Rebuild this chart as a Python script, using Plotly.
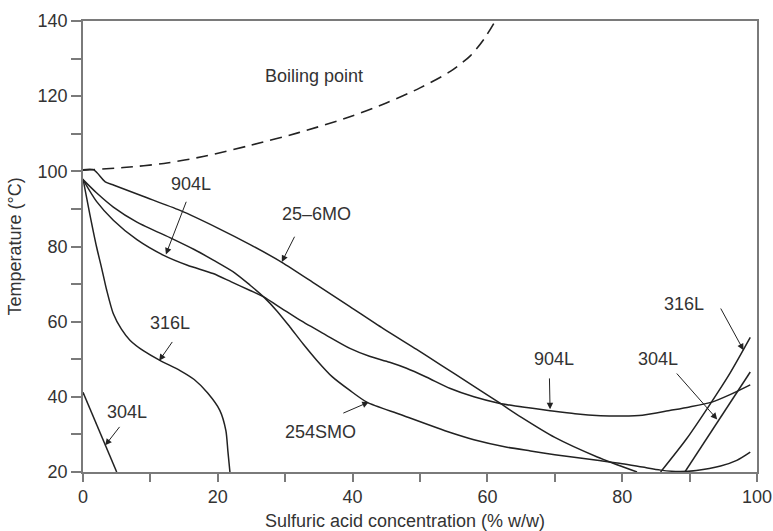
import plotly.graph_objects as go

# Boiling point of sulfuric acid solutions
boil_x = [0, 6, 12, 18, 24.8, 32, 39.6, 45, 50, 54.5, 57.5, 59.5, 61.0]
boil_y = [100.3, 101.0, 102.1, 104.0, 106.9, 110.3, 114.5, 118.2, 122.2, 126.6, 130.8, 135.2, 139.5]

# Iso-corrosion curves (0.1 mm/yr) per alloy
mo25_x = [0, 1.6, 3.3, 4.6, 9, 14.4, 20, 24.8, 29.5, 34.5, 39.6, 44.5, 49.5, 53, 57.5, 61.7, 65, 70, 76.3, 82.2]
mo25_y = [100.4, 100.4, 97.2, 96.3, 93.3, 89.6, 84.9, 80.5, 75.8, 70.0, 64.0, 58.2, 52.6, 48.6, 43.4, 38.5, 34.6, 29.2, 24.0, 20.0]

l904_x = [0, 2, 4.5, 8, 11.9, 15.5, 19.3, 22, 24.8, 26.8, 29.5, 32.2, 36, 39.6, 42.5, 45.5, 48, 51, 54.5,
          58, 61.7, 65.5, 69.3, 73, 76.8, 80, 83, 87.2, 90, 93.3, 96, 99]
l904_y = [97.8, 92.0, 87.0, 81.8, 77.7, 75.0, 72.8, 70.6, 68.3, 66.6, 63.5, 60.4, 56.5, 52.9, 50.8, 49.2, 47.6,
          45.2, 42.2, 40.0, 38.3, 37.2, 36.3, 35.5, 35.0, 34.9, 35.1, 36.4, 37.3, 38.6, 40.6, 43.2]

smo254_x = [0, 2, 4.5, 8, 13.2, 16.5, 19.4, 22.5, 24.8, 26.8, 28.8, 30.7, 32.7, 34.7, 37, 39.6, 42.1, 47.1,
            54.5, 58, 62.9, 66.4, 70, 76.3, 80, 83, 85.7, 88.5, 91, 94.6, 97, 99]
smo254_y = [97.8, 94.3, 90.5, 86.5, 82.1, 79.2, 76.3, 73.0, 69.7, 66.6, 62.8, 58.6, 54.0, 49.7, 45.3, 41.7,
            38.6, 35.3, 30.5, 28.6, 26.6, 25.6, 24.6, 23.1, 22.2, 21.3, 20.5, 20.1, 20.4, 21.6, 23.1, 25.3]

l316_low_x = [0, 1, 2, 2.8, 3.5, 4.5, 5.7, 7, 9, 11.4, 14.4, 16.5, 18.5, 20.3, 21.2, 21.5, 21.8]
l316_low_y = [98, 88.7, 80, 74, 68.5, 62.1, 58, 55, 52.2, 49.7, 47, 44.6, 41.0, 36.4, 31, 25.5, 20]
l316_high_x = [85.7, 89.5, 93.1, 96, 99]
l316_high_y = [20, 28.7, 38.2, 46.3, 55.8]

l304_low_x = [0, 5.0]
l304_low_y = [41.2, 20]
l304_high_x = [89.3, 99]
l304_high_y = [20, 46.6]

x_ticks = [0, 20, 40, 60, 80, 100]
y_ticks = [20, 40, 60, 80, 100, 120, 140]

INK = "#222222"
AXIS = "#7a7a7a"
TEXT = "#333333"
FONT = "Liberation Sans, Arial, Helvetica, sans-serif"
FS = 18

fig = go.Figure()

fig.add_trace(go.Scatter(x=boil_x, y=boil_y, mode="lines",
                         line=dict(color=INK, width=1.6, dash="12px,7px", shape="spline", smoothing=0.8)))

for xs, ys, smooth in [
    (mo25_x, mo25_y, True), (l904_x, l904_y, True), (smo254_x, smo254_y, True),
    (l316_low_x, l316_low_y, True), (l316_high_x, l316_high_y, True),
    (l304_low_x, l304_low_y, False), (l304_high_x, l304_high_y, False),
]:
    line = dict(color=INK, width=1.5)
    if smooth:
        line.update(shape="spline", smoothing=0.7)
    fig.add_trace(go.Scatter(x=xs, y=ys, mode="lines", line=line))

# Curve labels: (text, label position, arrow tail, arrow tip)
labels = [
    ("25\u20136MO", (34.7, 88.6), (31.5, 83.0), (29.5, 75.9)),
    ("904L", (16.0, 96.5), (15.4, 92.3), (12.3, 77.9)),
    ("316L", (12.9, 59.6), (13.4, 55.0), (11.3, 49.6)),
    ("304L", (6.5, 36.0), (5.6, 32.4), (3.3, 27.1)),
    ("254SMO", (35.3, 30.6), (38.4, 35.5), (42.4, 38.6)),
    ("904L", (69.9, 50.1), (69.2, 45.3), (69.3, 36.7)),
    ("304L", (85.3, 50.2), (87.9, 46.6), (94.1, 34.0)),
    ("316L", (89.1, 64.6), (94.5, 63.9), (98.0, 52.4)),
]

annotations = [dict(x=34.2, y=125.5, text="Boiling point", showarrow=False,
                    font=dict(size=FS, color=TEXT, family=FONT))]
for text, (tx, ty), (ax, ay), (hx, hy) in labels:
    annotations.append(dict(x=tx, y=ty, text=text, showarrow=False,
                            font=dict(size=FS, color=TEXT, family=FONT)))
    annotations.append(dict(x=hx, y=hy, ax=ax, ay=ay, axref="x", ayref="y", text="",
                            showarrow=True, arrowhead=2, arrowsize=1.3, arrowwidth=1,
                            arrowcolor=INK, standoff=0, startstandoff=0))

annotations.append(dict(xref="paper", yref="paper", x=0.4775, y=-0.109, text="Sulfuric acid concentration (% w/w)",
                        showarrow=False, xanchor="center", yanchor="middle",
                        font=dict(size=FS, color=TEXT, family=FONT)))
annotations.append(dict(xref="paper", yref="paper", x=-0.101, y=0.5, text="Temperature (\u00b0C)",
                        textangle=-90, showarrow=False, xanchor="center", yanchor="middle",
                        font=dict(size=FS, color=TEXT, family=FONT)))

fig.update_layout(
    width=773, height=531, autosize=False,
    margin=dict(l=83, r=16, t=21, b=59),
    plot_bgcolor="white", paper_bgcolor="white",
    showlegend=False,
    font=dict(family=FONT, size=FS, color=TEXT),
    annotations=annotations,
)
axis_common = dict(ticks="outside", tickwidth=1.5, tickcolor=AXIS,
                   showline=True, linecolor=AXIS, linewidth=1.5, mirror=True,
                   showgrid=False, zeroline=False, automargin=False,
                   tickfont=dict(size=FS, color=TEXT, family=FONT))
fig.update_xaxes(range=[0, 100], tickvals=x_ticks, ticktext=[str(v) for v in x_ticks], ticklen=8,
                 minor=dict(dtick=10, tick0=0, ticks="outside", ticklen=8, tickwidth=1.5, tickcolor=AXIS),
                 **axis_common)
fig.update_yaxes(range=[20, 140], tickvals=y_ticks, ticktext=[str(v) for v in y_ticks], ticklen=10,
                 minor=dict(dtick=10, tick0=0, ticks="outside", ticklen=10, tickwidth=1.5, tickcolor=AXIS),
                 **axis_common)

fig.write_html("out.html")
